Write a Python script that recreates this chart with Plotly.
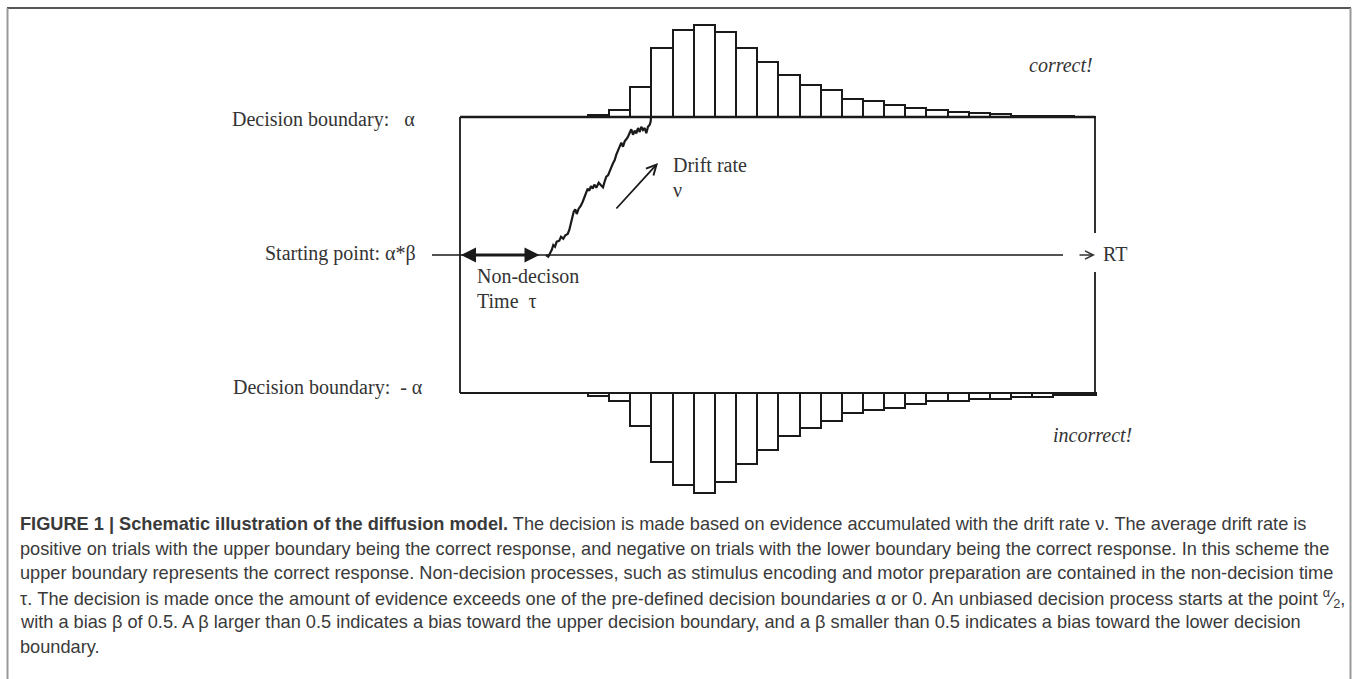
import plotly.graph_objects as go

# ---------------- data ----------------
# RT histogram bar heights (px-scaled counts), correct (upper) and incorrect (lower)
upper_counts = [1.7, 7, 30, 69, 87, 92, 85, 69, 55, 42, 32, 27, 18, 16, 12, 9, 7, 5, 4, 3, 1.5, 1, 1, 0.5]
lower_counts = [3, 8, 33, 69, 92, 100, 89, 71, 57, 43, 35, 28, 20, 17, 15, 11, 8, 8, 6, 6, 4, 4, 2, 2]

# sample diffusion path (time, evidence)
walk_t = [546.0, 548.3, 550.0, 551.7, 553.3, 555.0, 556.7, 559.3, 561.0, 563.3, 565.3, 567.7, 569.3,
          571.0, 572.3, 573.7, 575.3, 576.7, 578.7, 580.7, 582.7, 584.3, 586.0, 587.7, 589.3, 591.0,
          592.7, 594.3, 596.3, 598.7, 601.0, 603.0, 604.7, 606.3, 608.0, 609.7, 611.3, 613.0, 614.7,
          616.3, 618.0, 619.7, 621.3, 623.0, 624.7, 626.3, 628.0, 629.7, 631.3, 633.0, 634.7, 636.3,
          638.0, 639.7, 641.3, 643.0, 644.7, 646.3, 648.0, 649.7, 650.7, 651.0]
walk_v = [255.0, 256.7, 253.3, 250.0, 245.0, 246.7, 241.7, 240.7, 236.7, 238.7, 235.3, 234.0, 230.0,
          222.7, 217.3, 211.7, 209.3, 214.0, 208.7, 206.0, 201.7, 197.3, 193.3, 188.7, 190.7, 186.0,
          188.7, 184.7, 187.7, 182.7, 185.3, 187.3, 181.3, 176.7, 175.3, 172.0, 167.3, 163.3, 160.0,
          154.7, 150.7, 148.0, 142.7, 146.7, 141.3, 139.3, 136.7, 132.7, 129.3, 134.7, 130.7, 133.3,
          128.0, 132.0, 126.7, 130.0, 128.0, 133.3, 126.7, 124.7, 121.3, 116.7]

label_upper = "Decision boundary:\u00a0\u00a0 α"
label_start = "Starting point: α*β"
label_lower = "Decision boundary:\u00a0 - α"
label_ndt = ["Non-decison", "Time\u00a0 τ"]
label_drift = ["Drift rate", "ν"]
label_correct = "correct!"
label_incorrect = "incorrect!"
label_rt = "RT"

caption_lines = [
    "<b>FIGURE 1 | Schematic illustration of the diffusion model.</b> The decision is made based on evidence accumulated with the drift rate ν. The average drift rate is",
    "positive on trials with the upper boundary being the correct response, and negative on trials with the lower boundary being the correct response. In this scheme the",
    "upper boundary represents the correct response. Non-decision processes, such as stimulus encoding and motor preparation are contained in the non-decision time",
    "τ. The decision is made once the amount of evidence exceeds one of the pre-defined decision boundaries α or 0. An unbiased decision process starts at the point <sup>α</sup>⁄<sub>2</sub>,",
    "with a bias β of 0.5. A β larger than 0.5 indicates a bias toward the upper decision boundary, and a β smaller than 0.5 indicates a bias toward the lower decision",
    "boundary.",
]

# ---------------- layout geometry ----------------
W, H = 1358, 679
BOX_L, BOX_R = 460, 1095
UP_Y, LO_Y, ST_Y = 117, 393, 255
BIN0, BIN_W = 588, 21.15
START_L, START_R = 432, 1063
NDT_END = 541
RT_GAP = (233, 272)

INK = "#1a1a1a"
TXT = "#333333"
SERIF = "Liberation Serif, Times New Roman, serif"
SANS = "Liberation Sans, Arial, sans-serif"

centers_up = [BIN0 + (i + 0.5) * BIN_W for i in range(len(upper_counts))]
centers_lo = [BIN0 + (i + 0.5) * BIN_W for i in range(len(lower_counts))]

fig = go.Figure()

# upper (correct) histogram, growing upward from the upper boundary
fig.add_trace(go.Bar(x=centers_up, y=[-c for c in upper_counts], base=UP_Y, width=BIN_W,
                     marker=dict(color="white", line=dict(color=INK, width=2)),
                     hoverinfo="skip"))
# lower (incorrect) histogram, growing downward from the lower boundary
fig.add_trace(go.Bar(x=centers_lo, y=lower_counts, base=LO_Y, width=BIN_W,
                     marker=dict(color="white", line=dict(color=INK, width=2)),
                     hoverinfo="skip"))
# diffusion path
fig.add_trace(go.Scatter(x=walk_t, y=walk_v, mode="lines",
                         line=dict(color=INK, width=2.2), hoverinfo="skip"))

shapes = []
def hline(x0, x1, y, w=1.6, c=INK):
    shapes.append(dict(type="line", x0=x0, x1=x1, y0=y, y1=y, line=dict(color=c, width=w)))
def vline(x, y0, y1, w=1.6, c=INK):
    shapes.append(dict(type="line", x0=x, x1=x, y0=y0, y1=y1, line=dict(color=c, width=w)))

hline(BOX_L, BOX_R, UP_Y, 2.4)
hline(BOX_L, BOX_R, LO_Y, 2.0)
vline(BOX_L, UP_Y, LO_Y, 1.8)
vline(BOX_R, UP_Y, RT_GAP[0], 1.8)
vline(BOX_R, RT_GAP[1], LO_Y, 1.8)
hline(START_L, START_R, ST_Y, 1.6)
# outer frame
hline(7, 1351, 8, 2, "#555555")
vline(7.5, 8, H + 5, 2, "#999999")
vline(1350.5, 8, H + 5, 2, "#999999")

annotations = []
# non-decision double arrow
annotations.append(dict(x=BOX_L + 1, y=ST_Y, ax=NDT_END, ay=ST_Y, xref="x", yref="y",
                        axref="x", ayref="y", showarrow=True, arrowhead=2, arrowside="end+start",
                        arrowsize=1.0, arrowwidth=3, arrowcolor=INK, text=""))
# drift arrow
annotations.append(dict(x=658, y=163, ax=615, ay=210, xref="x", yref="y",
                        axref="x", ayref="y", showarrow=True, arrowhead=5,
                        arrowsize=1.1, arrowwidth=1.8, arrowcolor=INK, text=""))
# RT arrow
annotations.append(dict(x=1095, y=ST_Y, ax=1078, ay=ST_Y, xref="x", yref="y",
                        axref="x", ayref="y", showarrow=True, arrowhead=5,
                        arrowsize=1.15, arrowwidth=1.4, arrowcolor=TXT, text=""))

def txt(x, y, s, anchor="left", size=20, fam=SERIF, italic=False, color=TXT):
    if italic:
        s = "<i>" + s + "</i>"
    annotations.append(dict(x=x, y=y, xref="x", yref="y", text=s, showarrow=False,
                            xanchor=anchor, yanchor="middle",
                            font=dict(family=fam, size=size, color=color)))

txt(417, 119, label_upper, "right")
txt(418, 253, label_start, "right")
txt(425, 387, label_lower, "right")
txt(475, 276, label_ndt[0])
txt(475, 301, label_ndt[1])
txt(671, 165, label_drift[0])
txt(671, 190, label_drift[1])
txt(1027, 65, label_correct, italic=True)
txt(1051, 435, label_incorrect, italic=True)
txt(1101, 254, label_rt)

cap_y0, cap_dy = 524, 24.5
for i, line in enumerate(caption_lines):
    txt(18, cap_y0 + i * cap_dy, line, "left", size=18.2, fam=SANS, color="#3a3a3a")

fig.update_layout(
    width=W, height=H, margin=dict(l=0, r=0, t=0, b=0),
    paper_bgcolor="white", plot_bgcolor="white",
    xaxis=dict(range=[0, W], visible=False, fixedrange=True),
    yaxis=dict(range=[H, 0], visible=False, fixedrange=True),
    barmode="overlay", bargap=0, showlegend=False,
    shapes=shapes, annotations=annotations,
)

fig.write_html("out.html", config={"displayModeBar": False},
               post_script="document.body.style.margin='0';")
